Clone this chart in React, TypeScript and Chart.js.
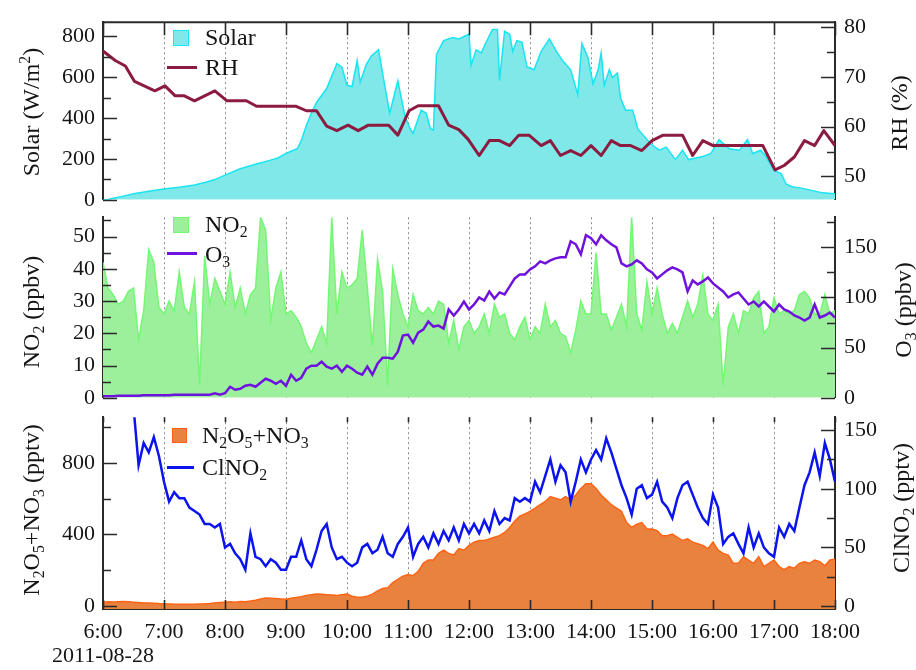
import React, { useEffect, useRef } from "react";
import { Chart, registerables } from "chart.js";

Chart.register(...registerables);

const FONT = "'Liberation Serif', 'Times New Roman', Times, serif";
const AXIS = "#2a2a2a";
const TXT = "#151515";
const GRID = "#8c8c8c";
const SOLAR_FILL = "#80E8E8";
const SOLAR_LINE = "#18E4F2";
const RH_COLOR = "#8C1B40";
const NO2_FILL = "#9CF09C";
const NO2_LINE = "#72F872";
const O3_COLOR = "#7012DE";
const N2O5_FILL = "#E8823E";
const N2O5_LINE = "#FF6414";
const CLNO2_COLOR = "#0C14EE";

// ---------- x axis ----------
const HOUR_TICKS = [6, 7, 8, 9, 10, 11, 12, 13, 14, 15, 16, 17, 18];
const HOUR_LABELS = ["6:00", "7:00", "8:00", "9:00", "10:00", "11:00", "12:00", "13:00", "14:00", "15:00", "16:00", "17:00", "18:00"];
const DATE_LABEL = "2011-08-28";

// ---------- panel 1 ----------
const SOLAR_TIME = ["6:00","6:05","6:10","6:20","6:30","6:45","7:00","7:15","7:30","7:40",
  "7:50","8:00","8:15","8:30","8:44","8:52","9:00","9:06","9:11","9:15",
  "9:20","9:25","9:30","9:40","9:50","9:55","10:00","10:05","10:10","10:13",
  "10:19","10:24","10:31","10:36","10:42","10:50","10:57","11:02","11:05","11:13",
  "11:18","11:22","11:25","11:28","11:35","11:44","11:50","12:00","12:02","12:07",
  "12:12","12:17","12:23","12:28","12:30","12:35","12:40","12:43","12:47","12:52",
  "12:57","13:04","13:11","13:19","13:26","13:32","13:40","13:47","13:51","13:57",
  "14:02","14:07","14:10","14:13","14:18","14:21","14:26","14:29","14:34","14:41",
  "14:46","14:51","14:59","15:07","15:14","15:23","15:30","15:36","15:50","15:58",
  "16:06","16:16","16:26","16:34","16:39","16:47","16:52","17:00","17:07","17:12",
  "17:18","17:28","17:38","17:48","18:00"];
const SOLAR = [0,2,8,18,30,42,53,62,73,85,
  99,121,152,174,193,205,227,240,250,289,
  364,425,477,545,667,650,561,555,682,576,
  664,705,735,591,424,583,410,348,326,439,
  424,348,341,712,780,795,788,811,659,735,
  720,773,834,834,584,826,811,727,780,773,
  652,637,727,788,727,682,637,515,765,697,
  568,637,720,561,637,599,621,500,439,439,
  348,318,273,243,258,197,243,197,212,227,
  295,250,243,295,227,243,212,144,129,76,
  64,56,45,34,30];

const RH_TIME = ["6:00","6:12","6:22","6:31","6:51","7:01","7:11","7:20","7:30","7:50",
  "8:02","8:21","8:31","9:10","9:20","9:30","9:40","9:50","10:01","10:11",
  "10:21","10:41","10:50","11:01","11:10","11:30","11:40","11:50","11:59","12:10",
  "12:20","12:30","12:40","12:49","12:59","13:11","13:20","13:30","13:40","13:50",
  "14:00","14:10","14:20","14:29","14:39","14:50","15:00","15:11","15:30","15:40",
  "15:50","16:00","16:49","17:01","17:10","17:20","17:30","17:40","17:49","18:00"];
const RH = [75.2,73.3,72.2,69.1,67.2,68.2,66.2,66.2,65.2,67.2,
  65.2,65.2,64.1,64.1,63.2,63.2,60.1,59.2,60.3,59.2,
  60.3,60.3,58.3,63.2,64.2,64.2,60.3,59.4,57.5,54.2,
  57.2,57.2,56.2,58.3,58.3,56.2,57.2,54.2,55.2,54.2,
  56.2,54.2,57.2,56.2,56.2,55.2,57.2,58.3,58.3,54.2,
  57.2,56.2,56.2,51.3,52.2,53.9,57.2,56.2,59.2,56.2];

// ---------- 5-minute series (panels 2 and 3) ----------
const TIME_5MIN = [
  "6:00","6:05","6:10","6:15","6:20","6:25","6:30","6:35","6:40","6:45","6:50","6:55",
  "7:00","7:05","7:10","7:15","7:20","7:25","7:30","7:35","7:40","7:45","7:50","7:55",
  "8:00","8:05","8:10","8:15","8:20","8:25","8:30","8:35","8:40","8:45","8:50","8:55",
  "9:00","9:05","9:10","9:15","9:20","9:25","9:30","9:35","9:40","9:45","9:50","9:55",
  "10:00","10:05","10:10","10:15","10:20","10:25","10:30","10:35","10:40","10:45","10:50","10:55",
  "11:00","11:05","11:10","11:15","11:20","11:25","11:30","11:35","11:40","11:45","11:50","11:55",
  "12:00","12:05","12:10","12:15","12:20","12:25","12:30","12:35","12:40","12:45","12:50","12:55",
  "13:00","13:05","13:10","13:15","13:20","13:25","13:30","13:35","13:40","13:45","13:50","13:55",
  "14:00","14:05","14:10","14:15","14:20","14:25","14:30","14:35","14:40","14:45","14:50","14:55",
  "15:00","15:05","15:10","15:15","15:20","15:25","15:30","15:35","15:40","15:45","15:50","15:55",
  "16:00","16:05","16:10","16:15","16:20","16:25","16:30","16:35","16:40","16:45","16:50","16:55",
  "17:00","17:05","17:10","17:15","17:20","17:25","17:30","17:35","17:40","17:45","17:50","17:55",
  "18:00"];

const NO2 = [
  42,34,32,29,30,33,34,18,27,46,42,28,
  26,30,27,39,28,26,36,4,44,29,37,33,
  29,39,28,34,26,32,34,56,52,24,34,39,
  26,27,25,22,17,14,18,22,17,56,26,39,
  34,35,37,52,34,16,43,33,4,40,32,26,
  22,32,27,26,28,26,30,29,17,24,15,22,
  24,20,22,26,20,29,25,26,20,18,22,25,
  18,22,20,29,22,24,20,19,14,21,30,26,
  26,45,26,26,21,25,29,22,56,26,21,36,
  26,34,26,20,23,20,25,30,25,29,38,26,
  24,29,4,22,26,20,27,26,31,33,20,22,
  31,26,27,26,27,32,33,31,26,26,32,26,
  27];

const O3 = [
  1.5,1.5,1.5,2,2,2,2,2,2.5,2.5,2.5,2.5,
  2.5,2.5,3,3,3,3,3,3,3,3,4.5,3,
  4.5,11,8,9,12,13,11,15,19,17,14,17,
  12,23,17,20,29,32,32,36,31,29,32,26,
  32,29,25,23,31,23,34,40,40,39,46,62,
  63,55,65,68,76,71,72,69,88,82,88,96,
  88,93,100,97,106,99,105,103,111,119,123,123,
  128,131,136,134,137,139,140,140,156,153,143,162,
  159,153,162,157,153,150,134,131,133,137,134,128,
  125,119,123,127,130,128,125,106,117,113,116,120,
  114,110,106,100,103,105,99,93,96,91,96,91,
  86,93,88,86,82,80,77,80,93,80,82,85,
  80];

const N2O5_NO3 = [
  22,24,23,25,26,24,22,20,18,17,16,14,
  13,12,11,10,10,11,10,12,13,15,18,20,
  22,24,22,26,24,28,33,40,45,44,42,40,
  38,44,48,52,60,64,68,66,64,62,60,64,
  67,55,49,49,55,67,85,98,103,131,149,167,
  176,170,194,239,257,257,294,312,294,285,321,312,
  339,357,366,366,375,384,393,411,439,475,502,515,
  529,547,566,584,611,602,593,611,593,620,656,683,
  683,656,620,593,566,547,529,466,439,457,466,430,
  430,421,393,393,402,384,366,375,357,348,339,321,
  357,312,294,285,239,239,276,257,239,276,221,239,
  257,221,203,221,212,239,248,239,257,248,225,257,
  261];

const CLNO2 = [
  null,null,null,null,null,null,170,120,139,131,144,128,
  106,89,97,92,92,84,81,78,70,70,67,70,
  50,53,45,40,31,62,42,40,34,40,37,31,
  31,42,42,56,40,34,48,64,70,50,40,42,
  37,34,37,50,53,45,48,59,45,42,53,59,
  67,42,53,59,50,62,53,64,56,67,56,70,
  62,70,62,73,64,81,70,75,73,92,89,92,
  89,106,97,111,125,106,120,114,89,106,125,114,
  125,133,125,143,131,117,103,92,78,100,103,92,
  95,106,89,84,75,92,103,106,95,84,75,70,
  95,84,53,59,62,53,45,67,50,62,50,45,
  42,67,59,70,64,84,103,114,131,111,139,125,
  106];

// ---------- y ticks ----------
const SOLAR_TICKS = [0, 100, 200, 300, 400, 500, 600, 700, 800];
const SOLAR_LABELED = [0, 200, 400, 600, 800];
const RH_TICKS = [50, 55, 60, 65, 70, 75, 80];
const RH_LABELED = [50, 60, 70, 80];
const NO2_TICKS = [0, 5, 10, 15, 20, 25, 30, 35, 40, 45, 50, 55];
const NO2_LABELED = [0, 10, 20, 30, 40, 50];
const O3_TICKS = [0, 25, 50, 75, 100, 125, 150, 175];
const O3_LABELED = [0, 50, 100, 150];
const N2O5_TICKS = [0, 200, 400, 600, 800, 1000];
const N2O5_LABELED = [0, 400, 800];
const CLNO2_TICKS = [0, 25, 50, 75, 100, 125, 150];
const CLNO2_LABELED = [0, 50, 100, 150];

const toHours = (t: string) => {
  const [h, m] = t.split(":").map(Number);
  return h + m / 60;
};
const pts = (times: string[], vals: (number | null)[]) =>
  times.map((t, i) => ({ x: toHours(t), y: vals[i] }));

const frameTicks = {
  id: "frameTicks",
  afterDatasetsDraw(chart: any, _args: any, opts: any) {
    const { ctx, chartArea: a, scales } = chart;
    ctx.save();
    ctx.strokeStyle = AXIS;
    ctx.lineWidth = 1.6;
    ctx.beginPath();
    Object.values(scales).forEach((s: any) => {
      if (s.axis === "y") {
        const left = s.position === "left";
        s.ticks.forEach((t: any) => {
          const y = Math.round(s.getPixelForValue(t.value)) + 0.5;
          const len = t.label ? 14 : 8;
          const x0 = left ? a.left : a.right;
          const x1 = left ? a.left + len : a.right - len;
          ctx.moveTo(x0, y);
          ctx.lineTo(x1, y);
        });
      } else {
        s.ticks.forEach((t: any) => {
          const x = Math.round(s.getPixelForValue(t.value)) + 0.5;
          if (opts.top) {
            ctx.moveTo(x, a.top);
            ctx.lineTo(x, a.top + opts.top);
          }
          if (opts.bottom) {
            ctx.moveTo(x, a.bottom);
            ctx.lineTo(x, a.bottom - opts.bottom);
          }
        });
      }
    });
    ctx.stroke();
    if (opts.frameTop) {
      ctx.lineWidth = 2;
      ctx.beginPath();
      ctx.moveTo(a.left - 1, a.top);
      ctx.lineTo(a.right + 1, a.top);
      ctx.stroke();
    }
    ctx.restore();
  },
};

const xScale = (labels: boolean, height: number, bottomBorder: boolean) => ({
  type: "linear",
  min: 6,
  max: 18,
  afterBuildTicks: (s: any) => {
    s.ticks = HOUR_TICKS.map((v) => ({ value: v }));
  },
  afterFit: (s: any) => {
    s.height = height;
  },
  grid: { display: true, drawOnChartArea: true, drawTicks: false, color: GRID, lineWidth: 1 },
  border: { display: bottomBorder, color: AXIS, width: 2, dash: [2, 3] },
  ticks: {
    display: labels,
    autoSkip: false,
    maxRotation: 0,
    minRotation: 0,
    padding: 11,
    color: TXT,
    font: { family: FONT, size: 22, lineHeight: 1.1 },
    callback: (_v: any, i: number) => (i === 0 ? [HOUR_LABELS[0], DATE_LABEL] : HOUR_LABELS[i]),
  },
});

const yScale = (
  position: "left" | "right",
  min: number,
  max: number,
  ticks: number[],
  labeled: number[],
  width: number
) => ({
  type: "linear",
  position,
  min,
  max,
  afterBuildTicks: (s: any) => {
    s.ticks = ticks.map((v) => ({ value: v }));
  },
  afterFit: (s: any) => {
    s.width = width;
  },
  grid: { display: false, drawTicks: false },
  border: { display: true, color: AXIS, width: 2 },
  ticks: {
    autoSkip: false,
    padding: position === "left" ? 8 : 9,
    color: TXT,
    font: { family: FONT, size: 22 },
    callback: (v: any) => (labeled.includes(Number(v)) ? String(v) : ""),
  },
});

const baseOptions = (padTop: number, padBottom: number, tickOpts: any, scales: any) => ({
  responsive: false,
  animation: false,
  events: [],
  layout: { padding: { top: padTop, bottom: padBottom, left: 0, right: 0 } },
  elements: { point: { radius: 0 }, line: { tension: 0 } },
  scales,
  plugins: { legend: { display: false }, tooltip: { enabled: false }, frameTicks: tickOpts },
});

const LEFT_W = 103;
const RIGHT_W = 81;

const sub = (s: string) => (
  <sub style={{ fontSize: "0.66em", verticalAlign: "-0.32em", lineHeight: 0 }}>{s}</sub>
);

const textAt = (x: number, cy: number): React.CSSProperties => ({
  position: "absolute",
  left: x,
  top: cy,
  transform: "translateY(-50%)",
  fontSize: 24,
  lineHeight: "24px",
  whiteSpace: "nowrap",
  color: TXT,
});

const titleAt = (cx: number, cy: number): React.CSSProperties => ({
  position: "absolute",
  left: cx,
  top: cy,
  transform: "translate(-50%, -50%) rotate(-90deg)",
  fontSize: 24,
  lineHeight: "24px",
  whiteSpace: "nowrap",
  color: TXT,
});

export default function App() {
  const c1 = useRef<HTMLCanvasElement>(null);
  const c2 = useRef<HTMLCanvasElement>(null);
  const c3 = useRef<HTMLCanvasElement>(null);

  useEffect(() => {
    Chart.defaults.font.family = FONT;
    const charts: Chart[] = [];

    charts.push(
      new Chart(c1.current as HTMLCanvasElement, {
        type: "line",
        data: {
          datasets: [
            {
              label: "RH",
              data: pts(RH_TIME, RH),
              yAxisID: "yR",
              borderColor: RH_COLOR,
              borderWidth: 3,
              pointRadius: 0,
              fill: false,
              borderJoinStyle: "round",
            },
            {
              label: "Solar",
              data: pts(SOLAR_TIME, SOLAR),
              yAxisID: "yL",
              borderColor: SOLAR_LINE,
              backgroundColor: SOLAR_FILL,
              borderWidth: 1.5,
              pointRadius: 0,
              fill: "origin",
            },
          ],
        },
        options: baseOptions(15, 15, { top: 13, frameTop: true }, {
          x: xScale(false, 0, false),
          yL: yScale("left", 0, 870, SOLAR_TICKS, SOLAR_LABELED, LEFT_W),
          yR: yScale("right", 45.3, 81, RH_TICKS, RH_LABELED, RIGHT_W),
        }),
        plugins: [frameTicks],
      } as any)
    );

    charts.push(
      new Chart(c2.current as HTMLCanvasElement, {
        type: "line",
        data: {
          datasets: [
            {
              label: "O3",
              data: pts(TIME_5MIN, O3),
              yAxisID: "yR",
              borderColor: O3_COLOR,
              borderWidth: 2.5,
              pointRadius: 0,
              fill: false,
            },
            {
              label: "NO2",
              data: pts(TIME_5MIN, NO2),
              yAxisID: "yL",
              borderColor: NO2_LINE,
              backgroundColor: NO2_FILL,
              borderWidth: 1.5,
              pointRadius: 0,
              fill: "start",
            },
          ],
        },
        options: baseOptions(17.5, 13, {}, {
          x: xScale(false, 0, false),
          yL: yScale("left", 0, 56, NO2_TICKS, NO2_LABELED, LEFT_W),
          yR: yScale("right", 0, 180, O3_TICKS, O3_LABELED, RIGHT_W),
        }),
        plugins: [frameTicks],
      } as any)
    );

    charts.push(
      new Chart(c3.current as HTMLCanvasElement, {
        type: "line",
        data: {
          datasets: [
            {
              label: "ClNO2",
              data: pts(TIME_5MIN, CLNO2),
              yAxisID: "yR",
              borderColor: CLNO2_COLOR,
              borderWidth: 2.5,
              pointRadius: 0,
              fill: false,
            },
            {
              label: "N2O5+NO3",
              data: pts(TIME_5MIN, N2O5_NO3),
              yAxisID: "yL",
              borderColor: N2O5_LINE,
              backgroundColor: N2O5_FILL,
              borderWidth: 1.5,
              pointRadius: 0,
              fill: "start",
            },
          ],
        },
        options: baseOptions(16.7, 0, { top: 5, bottom: 9 }, {
          x: xScale(true, 61, true),
          yL: yScale("left", -16, 1054, N2O5_TICKS, N2O5_LABELED, LEFT_W),
          yR: yScale("right", -2.5, 161, CLNO2_TICKS, CLNO2_LABELED, RIGHT_W),
        }),
        plugins: [frameTicks],
      } as any)
    );

    return () => charts.forEach((c) => c.destroy());
  }, []);

  const canvasStyle = (top: number): React.CSSProperties => ({ position: "absolute", left: 0, top });

  return (
    <div
      style={{
        position: "absolute",
        left: 0,
        top: 0,
        width: 916,
        height: 670,
        background: "#fff",
        fontFamily: FONT,
        overflow: "hidden",
      }}
    >
      <canvas ref={c1} width={916} height={222} style={canvasStyle(0)} />
      <canvas ref={c2} width={916} height={225} style={canvasStyle(195)} />
      <canvas ref={c3} width={916} height={275} style={canvasStyle(395)} />

      {/* legends */}
      <div style={{ position: "absolute", left: 173, top: 30, width: 14, height: 14, background: SOLAR_FILL, border: `1px solid ${SOLAR_LINE}` }} />
      <div style={textAt(205, 37)}>Solar</div>
      <div style={{ position: "absolute", left: 167, top: 65.5, width: 30, height: 3, background: RH_COLOR }} />
      <div style={textAt(205, 67)}>RH</div>

      <div style={{ position: "absolute", left: 173, top: 217, width: 14, height: 14, background: NO2_FILL, border: `1px solid ${NO2_LINE}` }} />
      <div style={textAt(205, 224)}>NO{sub("2")}</div>
      <div style={{ position: "absolute", left: 167, top: 252, width: 30, height: 2.5, background: O3_COLOR }} />
      <div style={textAt(205, 254)}>O{sub("3")}</div>

      <div style={{ position: "absolute", left: 172, top: 428, width: 13, height: 13, background: N2O5_FILL, border: `1px solid ${N2O5_LINE}` }} />
      <div style={textAt(202, 435)}>N{sub("2")}O{sub("5")}+NO{sub("3")}</div>
      <div style={{ position: "absolute", left: 167, top: 466, width: 27, height: 2.5, background: CLNO2_COLOR }} />
      <div style={textAt(202, 467)}>ClNO{sub("2")}</div>

      {/* axis titles */}
      <div style={titleAt(31, 112)}>
        Solar (W/m<sup style={{ fontSize: "0.66em", verticalAlign: "0.55em", lineHeight: 0 }}>2</sup>)
      </div>
      <div style={titleAt(31, 312)}>NO{sub("2")} (ppbv)</div>
      <div style={titleAt(31, 510)}>N{sub("2")}O{sub("5")}+NO{sub("3")} (pptv)</div>
      <div style={titleAt(899, 113)}>RH (%)</div>
      <div style={titleAt(903, 310)}>O{sub("3")} (ppbv)</div>
      <div style={titleAt(901, 508)}>ClNO{sub("2")} (pptv)</div>
    </div>
  );
}
